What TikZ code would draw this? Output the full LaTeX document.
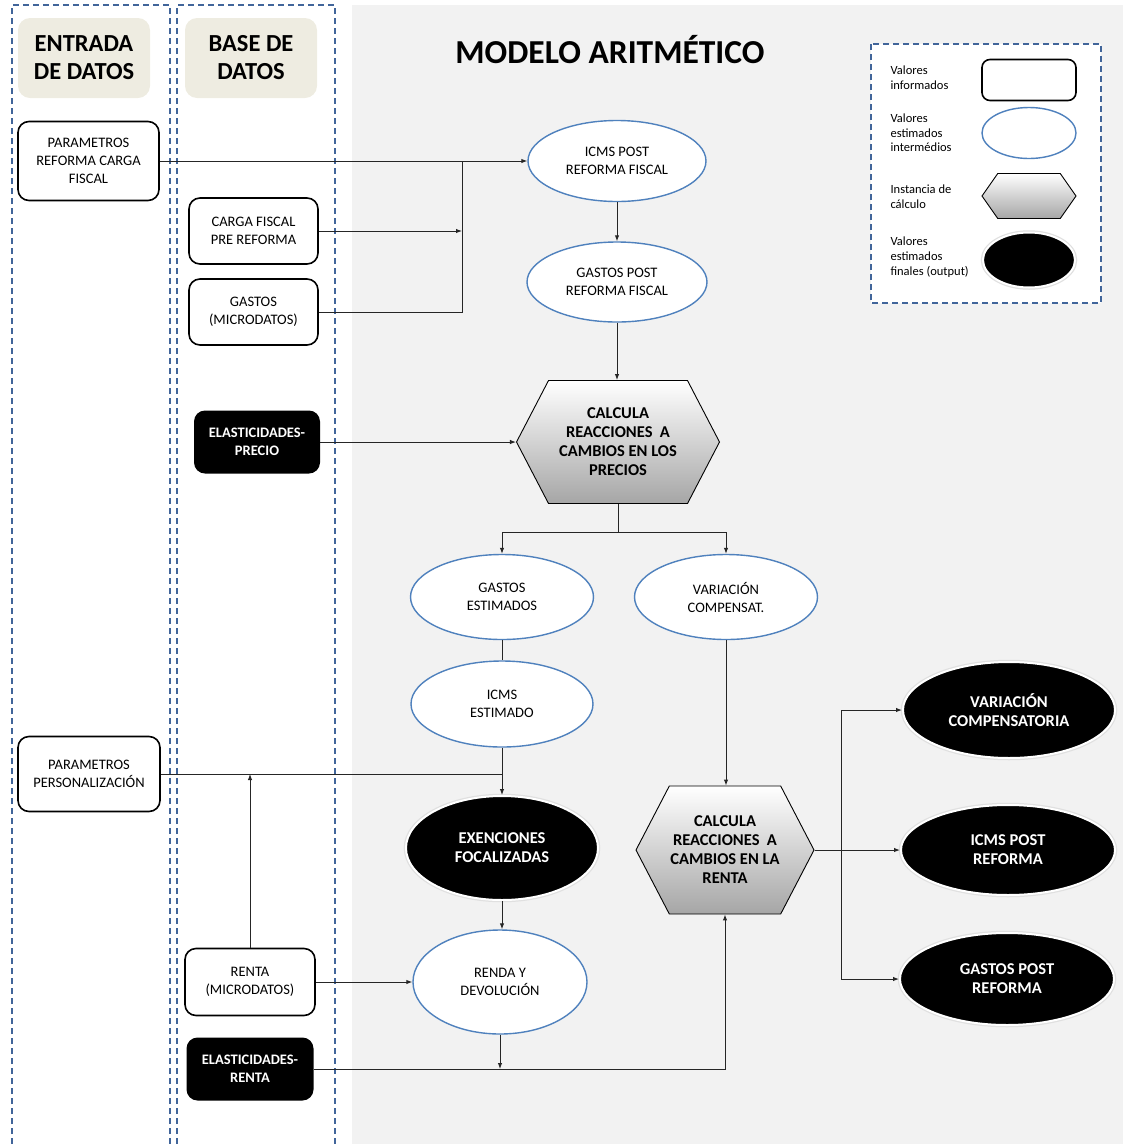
\documentclass[tikz,border=0pt]{standalone}
\usepackage{fontspec}
\setmainfont{Carlito}
\usepackage{tikz}
\usetikzlibrary{arrows.meta}
\usetikzlibrary{shapes}
\usetikzlibrary{shapes.geometric}
\usetikzlibrary{shapes.symbols}
\usetikzlibrary{positioning}

\definecolor{fondo}{HTML}{F2F2F2}
\definecolor{guion}{HTML}{41659A}
\definecolor{azul}{HTML}{4F81BD}
\definecolor{beige}{HTML}{EEECE1}

\newcommand{\ftxt}{\fontsize{14.5}{18}\selectfont}
\newcommand{\fbig}{\fontsize{16.5}{19}\selectfont\bfseries}
\newcommand{\fleg}{\fontsize{12.5}{14.7}\selectfont}

\tikzset{>={Latex[length=6pt,width=4.5pt]}}
\tikzstyle{informado} = [draw, rounded corners=11pt, line width=1.6pt, fill=white, align=center, font=\ftxt, inner sep=1pt]
\tikzstyle{elast} = [fill=black, rounded corners=11pt, text=white, align=center, font=\ftxt\bfseries, inner sep=1pt]
\tikzstyle{interm} = [ellipse, draw=azul, line width=1.4pt, fill=white, align=center, font=\ftxt, inner sep=0pt]
\tikzstyle{final} = [ellipse, fill=black, draw=white, line width=2pt, preaction={draw=black!12, line width=4.5pt}, text=white, align=center, font=\fbig, inner sep=0pt]
\tikzstyle{instancia} = [signal, signal to=west and east, signal pointer angle=125, draw, line width=0.9pt, top color=white, bottom color=black!35, align=center, font=\fbig, inner sep=0pt]
\tikzstyle{cabecera} = [fill=beige, rounded corners=12pt, align=center, font=\fontsize{24.5}{28}\selectfont\bfseries, minimum width=132pt, minimum height=80pt]
\tikzstyle{colline} = [draw=guion, line width=2pt, dash pattern=on 6pt off 4pt]
\tikzstyle{flecha} = [->, draw=black!85, line width=1pt]
\tikzstyle{linea} = [-, draw=black!85, line width=1pt]

\begin{document}
\begin{tikzpicture}[x=1pt, y=-1pt]
\useasboundingbox (0,0) rectangle (1123,1144);
% fondo y columnas
\fill[fondo] (352,5) rectangle (1123,1144);
\draw[colline] (12,1144) -- (12,5) -- (170,5) -- (170,1144);
\draw[colline] (177,1144) -- (177,5) -- (335,5) -- (335,1144);
\node [cabecera] (hin) at (84,58) {ENTRADA\\DE DATOS};
\node [cabecera] (hbd) at (251,58) {BASE DE\\DATOS};
\node [font=\fontsize{33.5}{36}\selectfont\bfseries] (tit) at (610,50) {MODELO ARITMÉTICO};

% leyenda
\draw[colline, fill=white] (871,44) rectangle (1101,303);
\node [anchor=west, align=left, font=\fleg] (lt1) at (887,78) {Valores\\informados};
\node [anchor=west, align=left, font=\fleg] (lt2) at (887,133) {Valores\\estimados\\intermédios};
\node [anchor=west, align=left, font=\fleg] (lt3) at (887,197) {Instancia de\\cálculo};
\node [anchor=west, align=left, font=\fleg] (lt4) at (887,257) {Valores\\estimados\\finales (output)};
\node [informado, rounded corners=8pt, minimum width=94pt, minimum height=41pt] (l1) at (1029,80) {};
\node [interm, minimum width=94pt, minimum height=51pt] (l2) at (1029,133) {};
\node [instancia, minimum width=94pt, minimum height=45pt, signal pointer angle=110] (l3) at (1029,196) {};
\node [final, minimum width=92pt, minimum height=55pt] (l4) at (1029,260) {};

% datos
\node [informado, minimum width=141pt, minimum height=79pt] (pref) at (88.5,161) {PARAMETROS\\REFORMA CARGA\\FISCAL};
\node [informado, minimum width=129pt, minimum height=66pt] (carga) at (253.5,231) {CARGA FISCAL\\PRE REFORMA};
\node [informado, minimum width=129pt, minimum height=66pt] (gastmic) at (253.5,312) {GASTOS\\(MICRODATOS)};
\node [elast, minimum width=126pt, minimum height=63pt] (elasp) at (257,442) {ELASTICIDADES-\\PRECIO};
\node [informado, minimum width=142pt, minimum height=75pt] (pers) at (89,774) {PARAMETROS\\PERSONALIZACIÓN};
\node [informado, minimum width=130pt, minimum height=67pt] (renta) at (250,982) {RENTA\\(MICRODATOS)};
\node [elast, minimum width=127pt, minimum height=63pt] (elasr) at (250,1069) {ELASTICIDADES-\\RENTA};

% modelo
\node [interm, minimum width=178pt, minimum height=81pt] (icmspost) at (617,161) {ICMS POST\\REFORMA FISCAL};
\node [interm, minimum width=180pt, minimum height=80pt] (gastpost) at (617,282) {GASTOS POST\\REFORMA FISCAL};
\node [instancia, minimum width=203pt, minimum height=123pt] (calcp) at (618,442) {CALCULA\\REACCIONES\ \ A\\CAMBIOS EN LOS\\PRECIOS};
\node [interm, minimum width=183pt, minimum height=85pt] (gastest) at (502,597) {GASTOS\\ESTIMADOS};
\node [interm, minimum width=183pt, minimum height=85pt] (varcomp) at (726,597) {VARIACIÓN\\COMPENSAT.};
\node [interm, minimum width=182pt, minimum height=86pt] (icmsest) at (502,704) {ICMS\\ESTIMADO};
\node [final, minimum width=192pt, minimum height=104pt] (exen) at (502,848) {EXENCIONES\\FOCALIZADAS};
\node [interm, minimum width=174pt, minimum height=104pt] (renda) at (500,982) {RENDA Y\\DEVOLUCIÓN};
\node [instancia, minimum width=178pt, minimum height=128pt] (calcr) at (725,850) {CALCULA\\REACCIONES\ \ A\\CAMBIOS EN LA\\RENTA};
\node [final, minimum width=212pt, minimum height=96pt] (varfin) at (1009,710) {VARIACIÓN\\COMPENSATORIA};
\node [final, minimum width=214pt, minimum height=90pt] (icmsfin) at (1008,850) {ICMS POST\\REFORMA};
\node [final, minimum width=214pt, minimum height=92pt] (gastfin) at (1007,979) {GASTOS POST\\REFORMA};

% conexiones
\coordinate (j1) at (462,161);
\coordinate (j2) at (462,231);
\coordinate (j3) at (462,312);
\draw [flecha] (pref.east) -- (icmspost.west);
\draw [flecha] (carga.east) -- (j2);
\draw [linea] (gastmic.east) -- (j3) -- (j1);
\draw [flecha] (icmspost) -- (gastpost);
\draw [flecha] (gastpost.south) -- (gastpost.south |- calcp.north);
\draw [flecha] (elasp.east) -- (calcp.west);
\coordinate (b1) at (617,532);
\draw [linea] (calcp.south) -- (calcp.south |- b1);
\draw [flecha] (b1) -| (gastest.north);
\draw [flecha] (b1) -| (varcomp.north);
\draw [linea] (gastest) -- (icmsest);
\draw [flecha] (icmsest) -- (exen);
\draw [linea] (pers.east) -- (pers.east -| exen.north);
\draw [flecha] (renta.north) -- (renta.north |- pers.east);
\draw [flecha] (exen.south) -- (exen.south |- renda.north);
\draw [flecha] (renta.east) -- (renda.west);
\coordinate (r1) at (500,1069);
\coordinate (r2) at (725,1069);
\draw [flecha] (renda.south) -- (r1);
\draw [flecha] (elasr.east) -- (r2) -- (calcr.south);
\draw [flecha] (varcomp.south) -- (varcomp.south |- calcr.north);
\coordinate (s1) at (841,850);
\draw [flecha] (calcr.east) -- (icmsfin.west);
\draw [flecha] (s1) |- (varfin.west);
\draw [flecha] (s1) |- (gastfin.west);
\end{tikzpicture}
\end{document}
